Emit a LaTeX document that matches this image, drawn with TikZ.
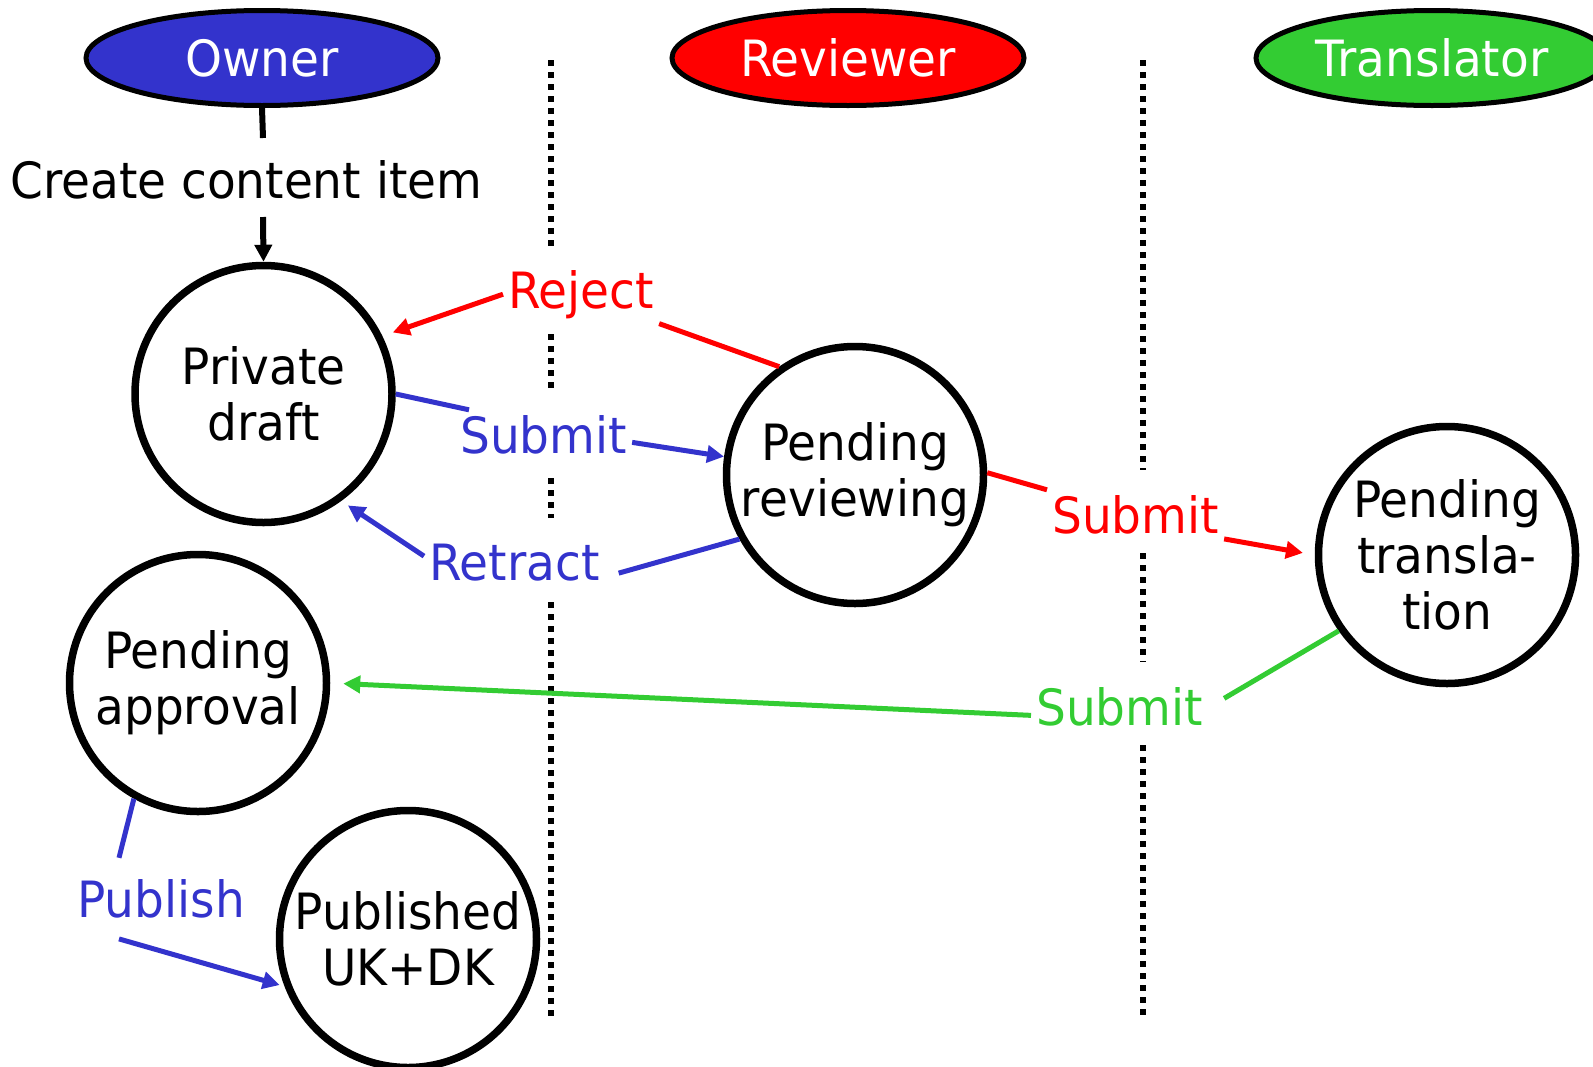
\documentclass[tikz,border=0pt]{standalone}
\usepackage{fontspec}
\setmainfont{DejaVu Sans}[FakeStretch=0.94]
\usetikzlibrary{arrows.meta,shapes.geometric}
\definecolor{ownerblue}{RGB}{51,51,204}
\definecolor{revred}{RGB}{255,0,0}
\definecolor{transgreen}{RGB}{51,204,51}
\begin{document}
\begin{tikzpicture}[x=1pt,y=-1pt,
  big/.style={font=\fontsize{50}{56}\selectfont},
  role/.style={ellipse, draw=black, line width=5pt, minimum width=352pt, minimum height=95pt, inner sep=0pt, text=white, big},
  state/.style={circle, draw=black, line width=7.5pt, minimum size=257pt, inner sep=0pt, align=center, big},
  lbl/.style={inner sep=5pt, anchor=base west, big},
  conn/.style={line width=5pt},
  tip/.style={-{Triangle[length=17pt,width=17pt]}},
  lane/.style={line width=6pt, dash pattern=on 6pt off 6pt}
]
\useasboundingbox (0,0) rectangle (1593,1066);

% lane separators
\draw[lane] (551,60) -- (551,250);
\draw[lane] (551,334) -- (551,393);
\draw[lane] (551,478) -- (551,518);
\draw[lane] (551,602) -- (551,1019);
\draw[lane] (1143,60) -- (1143,470);
\draw[lane] (1143,553) -- (1143,662);
\draw[lane] (1143,745) -- (1143,1019);

% roles
\node[role, fill=ownerblue] (owner) at (262,58) {Owner};
\node[role, fill=revred] (reviewer) at (848,58) {Reviewer};
\node[role, fill=transgreen] (translator) at (1432,58) {Translator};

% states
\node[state] (draft) at (263.5,394) {Private\\draft};
\node[state] (rev) at (855,475) {Pending\\reviewing};
\node[state] (trans) at (1447,555) {Pending\\transla-\\tion};
\node[state] (appr) at (198,683) {Pending\\approval};
\node[state] (pub) at (408,939) {Published\\UK+DK};

% labels
\node[lbl] (create) at (5,198) {Create content item};
\node[lbl, text=revred] (rej) at (503,308) {Reject};
\node[lbl, text=ownerblue] (sub1) at (455,453) {Submit};
\node[lbl, text=ownerblue] (ret) at (424,580) {Retract};
\node[lbl, text=revred] (sub2) at (1047,533) {Submit};
\node[lbl, text=transgreen] (sub3) at (1031,725) {Submit};
\node[lbl, text=ownerblue] (publ) at (72,917) {Publish};

% create
\coordinate (c1) at (263,138);
\coordinate (c2) at (263,217);
\draw[line width=6pt] (owner.south) -- (c1);
\draw[line width=6pt, tip] (c2) -- (draft.north);

% reject
\draw[conn, revred] (rev.125.5) -- (rej.south east);
\draw[conn, revred, tip, shorten >=11pt] (rej.west) -- (draft.26);
% submit draft -> reviewing
\draw[conn, ownerblue] (draft.0) -- ([xshift=14pt]sub1.north west);
\draw[conn, ownerblue, tip] ([yshift=-8pt]sub1.east) -- (rev.172);
% retract
\draw[conn, ownerblue] (rev.209) -- ([xshift=14pt,yshift=-11pt]ret.east);
\draw[conn, ownerblue, tip, shorten >=8pt] ([yshift=6pt]ret.west) -- (draft.-54);
% submit reviewing -> translation
\draw[conn, revred] (rev.1) -- (sub2.north west);
\draw[conn, revred, tip, shorten >=12pt] (sub2.south east) -- (trans.180);
% submit translation -> approval
\draw[conn, transgreen] (trans.215.5) -- ([xshift=16pt,yshift=8pt]sub3.east);
\draw[conn, transgreen, tip, shorten >=13pt] ([yshift=-9pt]sub3.west) -- (appr.0);
% publish
\draw[conn, ownerblue] (appr.241) -- ([xshift=47pt,yshift=16pt]publ.north west);
\draw[conn, ownerblue, tip, shorten >=5pt] ([xshift=47pt,yshift=-16pt]publ.south west) -- (pub.201);
\end{tikzpicture}
\end{document}
